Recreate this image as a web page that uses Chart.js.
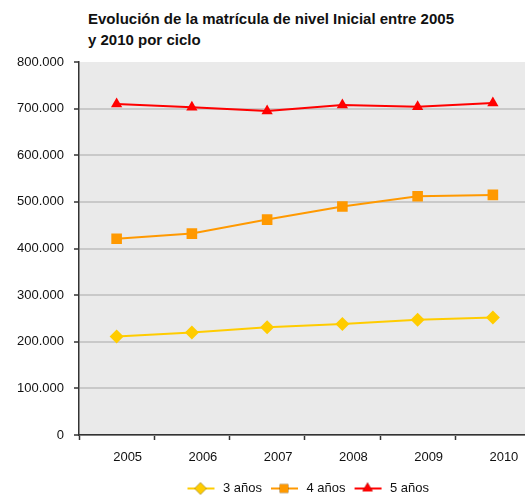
<!DOCTYPE html>
<html>
<head>
<meta charset="utf-8">
<script src="https://cdn.jsdelivr.net/npm/chart.js@4"></script>
<style>
  html, body { margin: 0; padding: 0; background: #fff; }
  #wrap { position: relative; width: 525px; height: 498px; overflow: hidden; }
  #title {
    position: absolute; left: 88px; top: 8px;
    font: bold 15px "Liberation Sans", Arial, sans-serif; line-height: 21px; color: #111;
  }
  canvas { position: absolute; left: 0; top: 0; }
</style>
</head>
<body>
<div id="wrap">
  <div id="title">Evolución de la matrícula de nivel Inicial entre 2005<br>y 2010 por ciclo</div>
  <canvas id="chart" width="538" height="505"></canvas>
</div>
<script>
const years = ['2005', '2006', '2007', '2008', '2009', '2010']
const tres = [211000, 220000, 231000, 238000, 247000, 252000]
const cuatro = [421000, 432000, 462000, 490000, 512000, 515000]
const cinco = [710000, 703000, 695000, 708000, 704000, 712000]

const font = '"Liberation Sans", Arial, sans-serif'

// legend icon: short line with the marker in the middle, small blank margin on the left
function icon(color, style) {
    const c = document.createElement('canvas')
    c.width = 36
    c.height = 14
    const ctx = c.getContext('2d')
    ctx.strokeStyle = color
    ctx.lineWidth = 2
    ctx.beginPath()
    ctx.moveTo(7, 7)
    ctx.lineTo(34, 7)
    ctx.stroke()
    Chart.helpers.drawPoint(ctx, {pointStyle: style, radius: 6, rotation: 0, borderWidth: 0}, 20, 7)
    ctx.fillStyle = color
    ctx.fill()
    return c
}

const bgPlugin = {
    id: 'bg',
    beforeDraw(chart) {
        const a = chart.chartArea
        const ctx = chart.ctx
        ctx.save()
        ctx.fillStyle = '#eaeaea'
        ctx.fillRect(a.left, a.top, a.right - a.left, a.bottom - a.top)
        ctx.restore()
    }
}

const icons = [icon('#FFCC00', 'rectRot'), icon('#FF9900', 'rect'), icon('#FF0000', 'triangle')]

new Chart(document.getElementById('chart'), {
    type: 'line',
    data: {
        labels: years,
        datasets: [
            {
                label: '3 años',
                data: tres,
                borderColor: '#FFCC00',
                backgroundColor: '#FFCC00',
                pointStyle: 'rectRot',
                pointRadius: 7
            },
            {
                label: '4 años',
                data: cuatro,
                borderColor: '#FF9900',
                backgroundColor: '#FF9900',
                pointStyle: 'rect',
                pointRadius: 7.5
            },
            {
                label: '5 años',
                data: cinco,
                borderColor: '#FF0000',
                backgroundColor: '#FF0000',
                pointStyle: 'triangle',
                pointRadius: 6.5
            }
        ]
    },
    options: {
        responsive: false,
        animation: false,
        layout: {padding: {top: 62, right: 0, left: 0, bottom: 0}},
        elements: {
            line: {borderWidth: 2, tension: 0},
            point: {borderWidth: 0}
        },
        scales: {
            x: {
                offset: true,
                afterFit(scale) { scale.height = 45 },
                grid: {offset: true, drawOnChartArea: false, tickLength: 5, tickColor: '#333', tickWidth: 1.5},
                border: {color: '#333', width: 1.5},
                ticks: {color: '#111', font: {family: font, size: 13}, padding: 10, labelOffset: 11, maxRotation: 0}
            },
            y: {
                min: 0,
                max: 800000,
                afterFit(scale) { scale.width = 79 },
                grid: {
                    color: ctx => (ctx.tick && ctx.tick.value === 800000) ? 'rgba(0,0,0,0)' : '#c9c9c9',
                    lineWidth: 2,
                    tickLength: 5,
                    tickColor: '#333',
                    tickWidth: 1.5
                },
                border: {color: '#333', width: 1.5},
                ticks: {
                    stepSize: 100000,
                    color: '#111',
                    padding: 10,
                    font: {family: font, size: 13},
                    callback: v => String(v).replace(/\B(?=(\d{3})+(?!\d))/g, '.')
                }
            }
        },
        plugins: {
            legend: {
                position: 'bottom',
                fullSize: false,
                labels: {
                    usePointStyle: true,
                    pointStyleWidth: 36,
                    padding: 2,
                    color: '#111',
                    font: {family: font, size: 13},
                    generateLabels: chart => Chart.defaults.plugins.legend.labels.generateLabels(chart)
                        .map((l, i) => ({...l, pointStyle: icons[i]}))
                }
            },
            tooltip: {enabled: false}
        }
    },
    plugins: [bgPlugin]
})
</script>
</body>
</html>
